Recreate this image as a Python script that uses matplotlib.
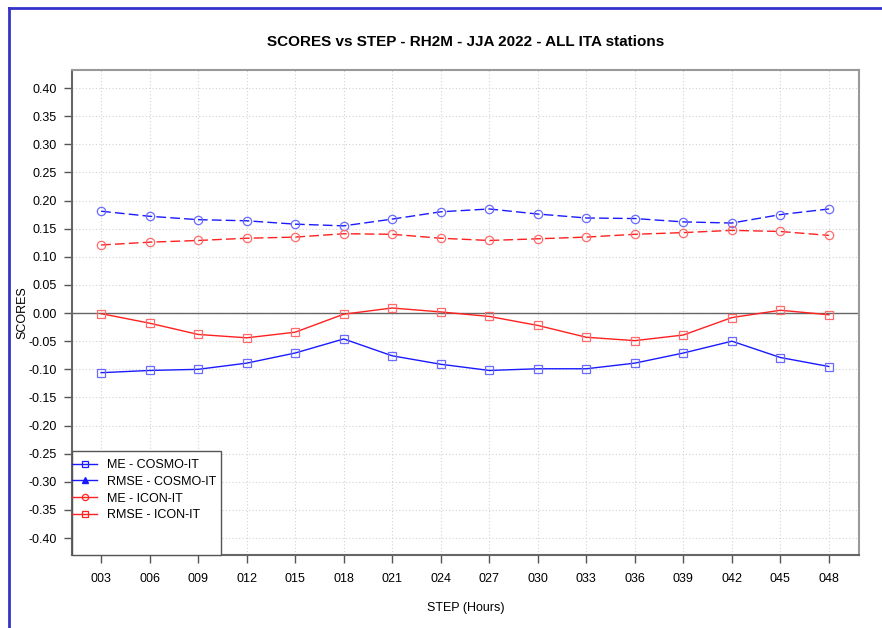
import matplotlib
matplotlib.use("Agg")
import matplotlib.pyplot as plt
from matplotlib.lines import Line2D
from matplotlib.patches import Rectangle

plt.rcParams["font.family"] = ["Liberation Sans", "DejaVu Sans"]

steps = ["003", "006", "009", "012", "015", "018", "021", "024",
         "027", "030", "033", "036", "039", "042", "045", "048"]
me_cosmo = [-0.106, -0.102, -0.100, -0.089, -0.071, -0.046, -0.076, -0.091,
            -0.102, -0.099, -0.099, -0.089, -0.071, -0.050, -0.079, -0.095]
rmse_cosmo = [0.181, 0.172, 0.166, 0.164, 0.158, 0.155, 0.167, 0.180,
              0.185, 0.176, 0.169, 0.168, 0.162, 0.160, 0.175, 0.185]
me_icon = [-0.001, -0.018, -0.038, -0.044, -0.034, -0.002, 0.009, 0.002,
           -0.006, -0.022, -0.043, -0.049, -0.039, -0.008, 0.005, -0.003]
rmse_icon = [0.121, 0.126, 0.129, 0.133, 0.135, 0.141, 0.140, 0.133,
             0.129, 0.132, 0.135, 0.140, 0.143, 0.147, 0.145, 0.138]
yticks = [round(-0.40 + 0.05 * i, 2) for i in range(17)]
legend_labels = ["ME - COSMO-IT", "RMSE - COSMO-IT", "ME - ICON-IT", "RMSE - ICON-IT"]

W, H = 882, 628
fig = plt.figure(figsize=(W / 100, H / 100), dpi=100)
ax = fig.add_axes([72 / W, 1 - 555 / H, (859 - 72) / W, (555 - 70) / H])

x = list(range(len(steps)))
blue = "#1a1aff"
red = "#ff2020"
blue_m = "#6a6aff"
red_m = "#ff6a6a"
ax.plot(x, me_cosmo, color=blue, lw=1.0, marker="s", ms=5.5, mfc="none", mec=blue_m, mew=0.9, zorder=3)
ax.plot(x, rmse_cosmo, color=blue, lw=1.0, ls=(0, (7, 3)), marker="o", ms=6, mfc="none", mec=blue_m, mew=0.9, zorder=3)
ax.plot(x, me_icon, color=red, lw=1.0, marker="s", ms=5.5, mfc="none", mec=red_m, mew=0.9, zorder=3)
ax.plot(x, rmse_icon, color=red, lw=1.0, ls=(0, (7, 3)), marker="o", ms=6, mfc="none", mec=red_m, mew=0.9, zorder=3)

ax.axhline(0, color="#666666", lw=1.0, zorder=2)
ax.set_xlim(-0.6, 15.62)
ax.set_ylim(-0.430, 0.432)
ax.set_xticks(x)
ax.set_xticklabels(steps)
ax.set_yticks(yticks)
ax.set_yticklabels([f"{v:.2f}" for v in yticks])
ax.grid(True, color="#d2d2d2", ls=(0, (1, 2)), lw=0.8, zorder=0)
ax.tick_params(direction="out", length=6, width=1, color="#555555", labelsize=9, pad=5)
ax.tick_params(axis="x", pad=7)
for s in ax.spines.values():
    s.set_color("#999999")
    s.set_linewidth(1.5)
ax.spines["left"].set_color("#666666")
ax.spines["bottom"].set_color("#666666")

ax.set_title("SCORES vs STEP - RH2M - JJA 2022 - ALL ITA stations",
             fontsize=11, fontweight="bold", pad=17)
ax.set_xlabel("STEP (Hours)", fontsize=9, labelpad=12)
ax.set_ylabel("SCORES", fontsize=9, labelpad=0)

handles = [
    Line2D([], [], color=blue, lw=1.0, marker="s", ms=4.5, mfc="none", mew=0.9),
    Line2D([], [], color=blue, lw=1.0, marker="^", ms=4.5, mfc=blue),
    Line2D([], [], color=red, lw=1.0, marker="o", ms=4.5, mfc="none", mew=0.9),
    Line2D([], [], color=red, lw=1.0, marker="s", ms=4.5, mfc="none", mew=0.9),
]
# legend frame as in reference (extends to the axes bottom)
fig.add_artist(Rectangle((72 / W, 1 - 555 / H), (221 - 72) / W, (555 - 451) / H,
                         transform=fig.transFigure, facecolor="white",
                         edgecolor="#555555", lw=1.0, zorder=4))
leg = fig.legend(handles, legend_labels, loc="upper left",
                 bbox_to_anchor=(72 / W, 1 - 459 / H),
                 fontsize=9, frameon=False, borderaxespad=0, borderpad=0,
                 handlelength=2.0, handletextpad=0.8, labelspacing=0.38)
leg.set_zorder(5)

# outer blue frame (left and top edges)
fig.add_artist(Line2D([9 / W, 9 / W], [0, 1 - 8 / H], color="#3333cc", lw=2, transform=fig.transFigure))
fig.add_artist(Line2D([9 / W, 1], [1 - 8 / H, 1 - 8 / H], color="#3333cc", lw=2, transform=fig.transFigure))

fig.savefig("out.png", dpi=100)
